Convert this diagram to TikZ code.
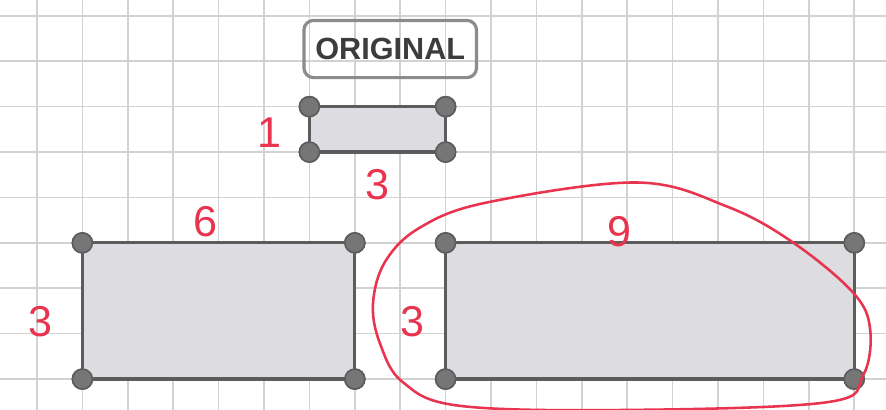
\documentclass[tikz,border=0pt]{standalone}
\usepackage{fontspec}
\setsansfont{Liberation Sans}
\usepackage{tikz}
\definecolor{colorGrid}{HTML}{D2D2D2}
\definecolor{colorEdge}{HTML}{5C5C5C}
\definecolor{colorFill}{HTML}{DDDCE1}
\definecolor{colorDot}{HTML}{767676}
\definecolor{colorPen}{HTML}{E8344F}
\definecolor{colorBox}{HTML}{8C8C8C}
\definecolor{colorText}{HTML}{3C3C3C}

\tikzset{
  corner/.style={circle, fill=colorDot, draw=colorEdge, line width=0.5pt, minimum size=0.22cm, inner sep=0pt},
  side/.style={text=colorPen, font=\sffamily\fontsize{13.5}{15}\selectfont},
}

\begin{document}
\begin{tikzpicture}[x=0.5cm, y=0.5cm]
        \useasboundingbox (-0.815,-0.68) rectangle (18.70,8.35);
        \fill[white] (-0.815,-0.68) rectangle (18.70,8.35);
        \draw[step=1,colorGrid,line width=0.5pt] (-0.815,-0.68) grid (18.70,8.35);
        % title box
        \node[draw=colorBox, rounded corners=3pt, line width=1pt, minimum width=1.9cm, minimum height=0.63cm,
              text=colorText, font=\sffamily\bfseries\fontsize{9.6}{11}\selectfont] (orig) at (7.78,7.27) {ORIGINAL};
        % small rectangle
        \node[corner] (s1) at (6,6) {};
        \node[corner] (s2) at (9,6) {};
        \node[corner] (s3) at (9,5) {};
        \node[corner] (s4) at (6,5) {};
        \filldraw[fill=colorFill, draw=colorEdge, line width=1pt] (s1.center) -- (s2.center) -- (s3.center) -- (s4.center) -- cycle;
        \foreach \c in {s1,s2,s3,s4} \node[corner] at (\c) {};
        % middle rectangle
        \node[corner] (m1) at (1,3) {};
        \node[corner] (m2) at (7,3) {};
        \node[corner] (m3) at (7,0) {};
        \node[corner] (m4) at (1,0) {};
        \filldraw[fill=colorFill, draw=colorEdge, line width=1pt] (m1.center) -- (m2.center) -- (m3.center) -- (m4.center) -- cycle;
        \foreach \c in {m1,m2,m3,m4} \node[corner] at (\c) {};
        % right rectangle
        \node[corner] (r1) at (9,3) {};
        \node[corner] (r2) at (18,3) {};
        \node[corner] (r3) at (18,0) {};
        \node[corner] (r4) at (9,0) {};
        \filldraw[fill=colorFill, draw=colorEdge, line width=1pt] (r1.center) -- (r2.center) -- (r3.center) -- (r4.center) -- cycle;
        \foreach \c in {r1,r2,r3,r4} \node[corner] at (\c) {};
        % side lengths
        \node[side] (h1) at (5.13,5.43) {1};
        \node[side] (w1) at (7.51,4.29) {3};
        \node[side] (w2) at (3.70,3.47) {6};
        \node[side] (h2) at (0.07,1.27) {3};
        \node[side] (w3) at (12.84,3.25) {9};
        \node[side] (h3) at (8.26,1.27) {3};
        % loop round the big one
        \draw[colorPen, line width=0.8pt] plot[smooth cycle, tension=0.6] coordinates {
          (13.22,4.33) (15.20,3.80) (16.65,3.01) (17.97,1.91) (18.35,1.10) (18.19,0.07)
          (17.40,-0.51) (13.0,-0.68) (9.32,-0.59) (8.06,-0.07) (7.56,0.77) (7.40,1.65)
          (7.67,2.59) (8.44,3.34) (9.91,3.89)};
    \end{tikzpicture}
\end{document}
